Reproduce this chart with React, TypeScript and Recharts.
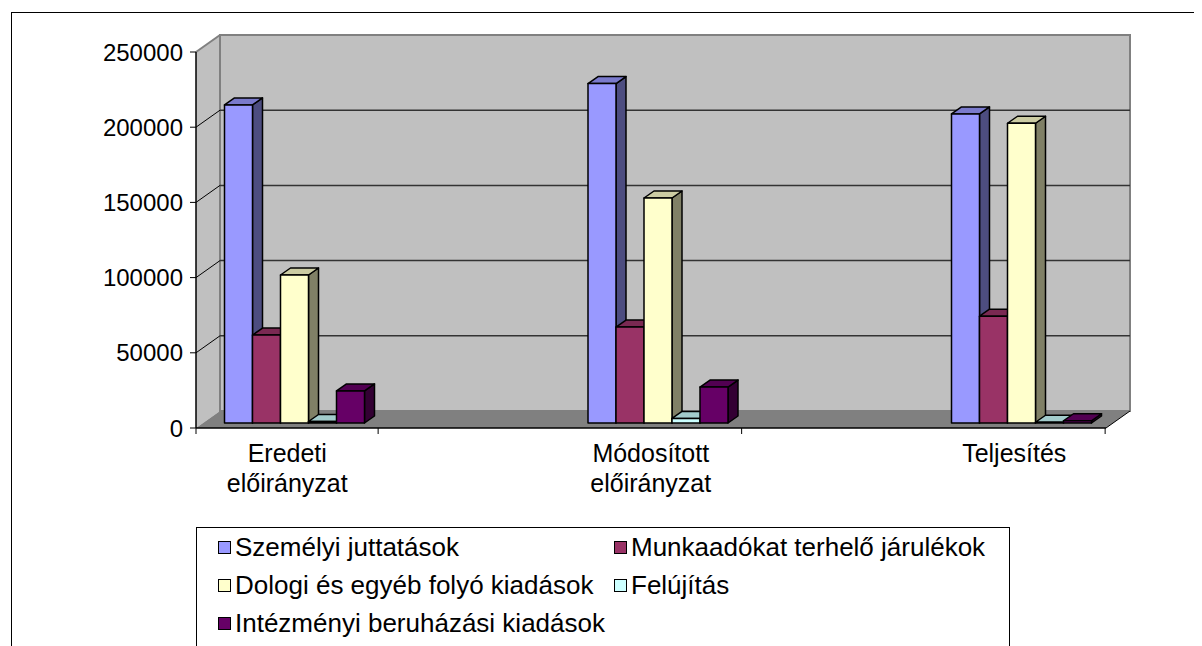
import React from 'react';
import { BarChart, Bar, XAxis, YAxis, ReferenceArea, Legend } from 'recharts';

// ---------- data ----------
const categories = ['Eredeti\nelőirányzat', 'Módosított\nelőirányzat', 'Teljesítés'];
const szemelyiJuttatasok = [211500, 225700, 205500];
const munkaadokatTerhelo = [58500, 63800, 71000];
const dologiKiadasok = [98400, 149600, 199300];
const felujitas = [1000, 3000, 500];
const intezmenyiBeruhazas = [21300, 23900, 1500];
const yTicks = [0, 50000, 100000, 150000, 200000, 250000];
const seriesNames = [
  'Személyi juttatások',
  'Munkaadókat terhelő járulékok',
  'Dologi és egyéb folyó kiadások',
  'Felújítás',
  'Intézményi beruházási kiadások',
];
const seriesValues = [szemelyiJuttatasok, munkaadokatTerhelo, dologiKiadasok, felujitas, intezmenyiBeruhazas];

// ---------- styles ----------
const FONT = '"Liberation Sans", Arial, sans-serif';
const Y_MAX = 250000;
const COLORS = [
  { front: '#9999FF', side: '#4D4D80', top: '#7A7ACC' },
  { front: '#993366', side: '#4D1A33', top: '#7A2952' },
  { front: '#FFFFCC', side: '#808066', top: '#CCCCA3' },
  { front: '#CCFFFF', side: '#668080', top: '#A3CCCC' },
  { front: '#660066', side: '#330033', top: '#520052' },
];
const DX = 24; // depth of the room (x)
const DY = -17; // depth of the room (y)
const BAR_OFF_X = 7; // bar front face inset into depth
const BAR_OFF_Y = -5;
const BAR_DX = 10; // bar depth
const BAR_DY = -7;
const X_PAD = { left: -90.5, right: -90 };

const data = categories.map((name, i) => {
  const row: Record<string, any> = { name };
  seriesValues.forEach((vals, s) => {
    row['s' + s] = vals[i];
  });
  return row;
});

function Room(props: any) {
  const { x, y, width, height } = props;
  const L = x - X_PAD.left;
  const R = x + width + X_PAD.right;
  const T = y;
  const B = y + height;
  const yOf = (t: number) => B - (t / Y_MAX) * height;
  return (
    <g>
      <polygon points={`${L},${T} ${L + DX},${T + DY} ${L + DX},${B + DY} ${L},${B}`} fill="#C0C0C0" />
      <rect x={L + DX} y={T + DY} width={R - L} height={B - T} fill="#C0C0C0" stroke="#808080" strokeWidth={2} />
      <polygon points={`${L},${B} ${L + DX},${B + DY} ${R + DX},${B + DY} ${R},${B}`} fill="#808080" />
      <line x1={R} y1={B} x2={R + DX} y2={B + DY} stroke="#000" strokeWidth={1} />
      {yTicks
        .filter((t) => t > 0 && t < Y_MAX)
        .map((t) => (
          <line key={'g' + t} x1={L + DX} y1={yOf(t) + DY} x2={R + DX} y2={yOf(t) + DY} stroke="#333" strokeWidth={1.5} />
        ))}
      {yTicks
        .filter((t) => t > 0)
        .map((t) => (
          <line
            key={'d' + t}
            x1={L}
            y1={yOf(t)}
            x2={L + DX}
            y2={yOf(t) + DY}
            stroke={t === Y_MAX ? '#808080' : '#000'}
            strokeWidth={t === Y_MAX ? 2 : 1}
          />
        ))}
      <line x1={L} y1={B} x2={L} y2={B + 6} stroke="#000" />
    </g>
  );
}

const makeBar = (s: number) => (props: any) => {
  const { x, y, width, height } = props;
  if (x == null || y == null) return <g />;
  const c = COLORS[s];
  const fx = x + BAR_OFF_X;
  const fy = y + BAR_OFF_Y;
  const h = Math.max(height, 0.5);
  return (
    <g stroke="#000" strokeWidth={1.5} strokeLinejoin="round">
      <polygon
        points={`${fx + width},${fy} ${fx + width + BAR_DX},${fy + BAR_DY} ${fx + width + BAR_DX},${fy + h + BAR_DY} ${fx + width},${fy + h}`}
        fill={c.side}
      />
      <polygon
        points={`${fx},${fy} ${fx + BAR_DX},${fy + BAR_DY} ${fx + width + BAR_DX},${fy + BAR_DY} ${fx + width},${fy}`}
        fill={c.top}
      />
      <rect x={fx} y={fy} width={width} height={h} fill={c.front} />
    </g>
  );
};

function CatTick(props: any) {
  const { x, y, payload } = props;
  const lines = String(payload.value).split('\n');
  const half = payload.offset ?? 0;
  return (
    <g>
      <line x1={x + half / 2} x2={x + half / 2} y1={y - 8} y2={y - 2} stroke="#000" />
      <text x={x} y={y} textAnchor="middle" fontSize={25} fontFamily={FONT} fill="#000">
        {lines.map((l, i) => (
          <tspan key={i} x={x} dy={i === 0 ? 26 : 30}>
            {l}
          </tspan>
        ))}
      </text>
    </g>
  );
}

const renderLegend = () => (
  <div
    style={{
      boxSizing: 'border-box',
      width: 814,
      height: 119,
      borderTop: '1px solid #000',
      borderLeft: '1px solid #000',
      borderRight: '1px solid #000',
      background: '#fff',
      fontFamily: FONT,
      fontSize: 26,
      color: '#000',
      display: 'grid',
      gridTemplateColumns: '396px auto',
      gridAutoRows: '38px',
      paddingLeft: 21,
      paddingTop: 0,
    }}
  >
    {seriesNames.map((n, i) => (
      <div key={n} style={{ display: 'flex', alignItems: 'center', whiteSpace: 'nowrap' }}>
        <span
          style={{
            display: 'inline-block',
            boxSizing: 'border-box',
            width: 13,
            height: 13,
            border: '1.5px solid #000',
            background: COLORS[i].front,
            marginRight: 4,
          }}
        />
        {n}
      </div>
    ))}
  </div>
);

export default function App() {
  return (
    <div style={{ position: 'relative', width: 1186, height: 638 }}>
      <style>{`html{overflow:hidden}`}</style>
      <BarChart
        width={1194}
        height={638}
        data={data}
        margin={{ top: 44, right: 96, bottom: 118, left: 0 }}
        barGap={0}
      >
        <ReferenceArea y1={0} y2={Y_MAX} ifOverflow="visible" shape={Room} />
        <XAxis
          dataKey="name"
          padding={X_PAD}
          height={100}
          tickLine={false}
          tickSize={6}
          tickMargin={2}
          axisLine={{ stroke: '#000', strokeWidth: 1.5 }}
          tick={<CatTick />}
          interval={0}
        />
        <YAxis
          domain={[0, Y_MAX]}
          ticks={yTicks}
          width={188}
          tickSize={6}
          tickMargin={7}
          axisLine={{ stroke: '#000', strokeWidth: 1.5 }}
          tickLine={{ stroke: '#000' }}
          tick={{ fontSize: 24, fill: '#000', fontFamily: FONT }}
        />
        {seriesNames.map((n, s) => (
          <Bar
            key={n}
            name={n}
            dataKey={'s' + s}
            fill={COLORS[s].front}
            barSize={28}
            shape={makeBar(s)}
            isAnimationActive={false}
          />
        ))}
        <Legend
          layout="vertical"
          align="center"
          verticalAlign="middle"
          content={renderLegend}
          wrapperStyle={{ left: 188, top: 519, width: 814, height: 119 }}
        />
      </BarChart>
      <div
        style={{
          position: 'absolute',
          left: 3,
          top: 4,
          width: 1191,
          height: 634,
          boxSizing: 'border-box',
          borderTop: '1px solid #000',
          borderLeft: '1px solid #000',
          pointerEvents: 'none',
        }}
      />
    </div>
  );
}
